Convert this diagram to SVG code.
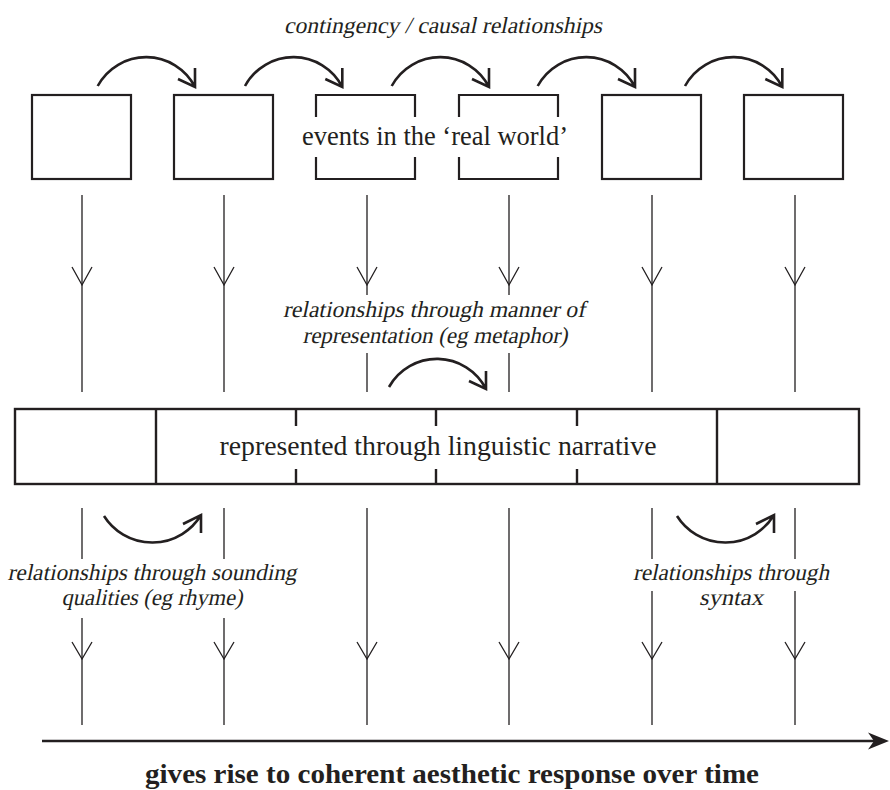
<svg xmlns="http://www.w3.org/2000/svg" width="890" height="790" viewBox="0 0 890 790">
  <style>
    .box { fill: none; stroke: #231f20; stroke-width: 2.2; }
    .band { fill: none; stroke: #231f20; stroke-width: 2.4; }
    .vline { fill: none; stroke: #231f20; stroke-width: 1.3; }
    .arc { fill: none; stroke: #231f20; stroke-width: 2.6; stroke-linecap: butt; }
    .txt { font-family: "Liberation Serif", "Times New Roman", serif; fill: #231f20; text-anchor: middle; }
    /* slanted serif labels: regular face sheared by the parent group */
    .it { font-size: 23px; }
    .rm { font-size: 26.5px; }
    .bd { font-weight: bold; font-size: 27px; }
  </style>
  <rect width="890" height="790" fill="#ffffff"/>

  <!-- events in the real world: six boxes -->
  <g id="event1"><rect class="box" x="32" y="95" width="99" height="84"/></g>
  <g id="event2"><rect class="box" x="174" y="95" width="99" height="84"/></g>
  <g id="event3"><path class="box" d="M316,117 V95 H415 V117 M316,157 V179 H415 V157"/></g>
  <g id="event4"><path class="box" d="M459,117 V95 H558 V117 M459,157 V179 H558 V157"/></g>
  <g id="event5"><rect class="box" x="602" y="95" width="99" height="84"/></g>
  <g id="event6"><rect class="box" x="744" y="95" width="99" height="84"/></g>
  <g id="events-label">
    <text class="txt rm" x="435" y="145" textLength="266" lengthAdjust="spacingAndGlyphs">events in the ‘real world’</text>
  </g>

  <!-- linguistic narrative band -->
  <g id="narrative">
    <rect class="band" x="15" y="409" width="844" height="75"/>
    <path class="band" d="M156,409 V484 M717,409 V484 M296,409 V426 M296,469 V484 M436,409 V426 M436,469 V484 M577,409 V426 M577,469 V484"/>
    <text class="txt rm" x="438" y="455" textLength="437" lengthAdjust="spacingAndGlyphs">represented through linguistic narrative</text>
  </g>

  <!-- relationship labels -->
  <g id="label-causal" transform="translate(443,33) skewX(-12)">
    <text class="txt it" x="0" y="0" textLength="318" lengthAdjust="spacingAndGlyphs">contingency / causal relationships</text>
  </g>
  <g id="label-metaphor">
    <g transform="translate(434,317) skewX(-12)">
      <text class="txt it" x="0" y="0" textLength="302" lengthAdjust="spacingAndGlyphs">relationships through manner of</text>
    </g>
    <g transform="translate(435,343) skewX(-12)">
      <text class="txt it" x="0" y="0" textLength="265" lengthAdjust="spacingAndGlyphs">representation (eg metaphor)</text>
    </g>
  </g>
  <g id="label-sound">
    <g transform="translate(152,580) skewX(-12)">
      <text class="txt it" x="0" y="0" textLength="289" lengthAdjust="spacingAndGlyphs">relationships through sounding</text>
    </g>
    <g transform="translate(152,605) skewX(-12)">
      <text class="txt it" x="0" y="0" textLength="181" lengthAdjust="spacingAndGlyphs">qualities (eg rhyme)</text>
    </g>
  </g>
  <g id="label-syntax">
    <g transform="translate(731,580) skewX(-12)">
      <text class="txt it" x="0" y="0" textLength="196" lengthAdjust="spacingAndGlyphs">relationships through</text>
    </g>
    <g transform="translate(731,605) skewX(-12)">
      <text class="txt it" x="0" y="0" textLength="64" lengthAdjust="spacingAndGlyphs">syntax</text>
    </g>
  </g>
  <g id="label-response">
    <text class="txt bd" x="452" y="783" textLength="614" lengthAdjust="spacingAndGlyphs">gives rise to coherent aesthetic response over time</text>
  </g>

  <g id="connectors">
    <!-- event to narrative -->
    <path class="vline" d="M82,195 V392 M224,195 V392 M367,195 V295 M367,353 V392 M509,195 V295 M509,353 V392 M652,195 V392 M795,195 V392"/>
    <path class="vline" d="M72,267 L82,285 L92,267 M214,267 L224,285 L234,267 M357,267 L367,285 L377,267 M499,267 L509,285 L519,267 M642,267 L652,285 L662,267 M785,267 L795,285 L805,267"/>
    <!-- narrative to response -->
    <path class="vline" d="M82,508 V559 M82,618 V725 M224,508 V559 M224,618 V725 M367,508 V725 M509,508 V725 M652,508 V559 M652,591 V725 M795,508 V559 M795,591 V725"/>
    <path class="vline" d="M72,642 L82,659 L92,642 M214,642 L224,659 L234,642 M357,642 L367,659 L377,642 M499,642 L509,659 L519,642 M642,642 L652,659 L662,642 M785,642 L795,659 L805,642"/>

    <!-- causal arcs between events -->
    <path class="arc" d="M97.7,86 A55,55 0 0 1 195,87 M195,68 V87 L178,79"/>
    <path class="arc" d="M245,86 A55,55 0 0 1 342.3,87 M342.3,68 V87 L325.3,79"/>
    <path class="arc" d="M391.7,86 A55,55 0 0 1 489,87 M489,68 V87 L472,79"/>
    <path class="arc" d="M537.7,86 A55,55 0 0 1 635,87 M635,68 V87 L618,79"/>
    <path class="arc" d="M685,86 A55,55 0 0 1 782.3,87 M782.3,68 V87 L765.3,79"/>

    <!-- metaphor arc -->
    <path class="arc" d="M389,387 A55,55 0 0 1 486,389 M486,371 V389 L469,381"/>

    <!-- sound and syntax arcs -->
    <path class="arc" d="M104,516 A57,57 0 0 0 201,515 M201,533 V515 L183,524"/>
    <path class="arc" d="M677,516 A57,57 0 0 0 774,515 M774,533 V515 L756,524"/>

    <!-- time axis -->
    <line x1="42" y1="741" x2="874" y2="741" stroke="#231f20" stroke-width="2.6"/>
    <path d="M889,741 L868,732.5 L874,741 L868,749.5 Z" fill="#231f20"/>
  </g>
</svg>
